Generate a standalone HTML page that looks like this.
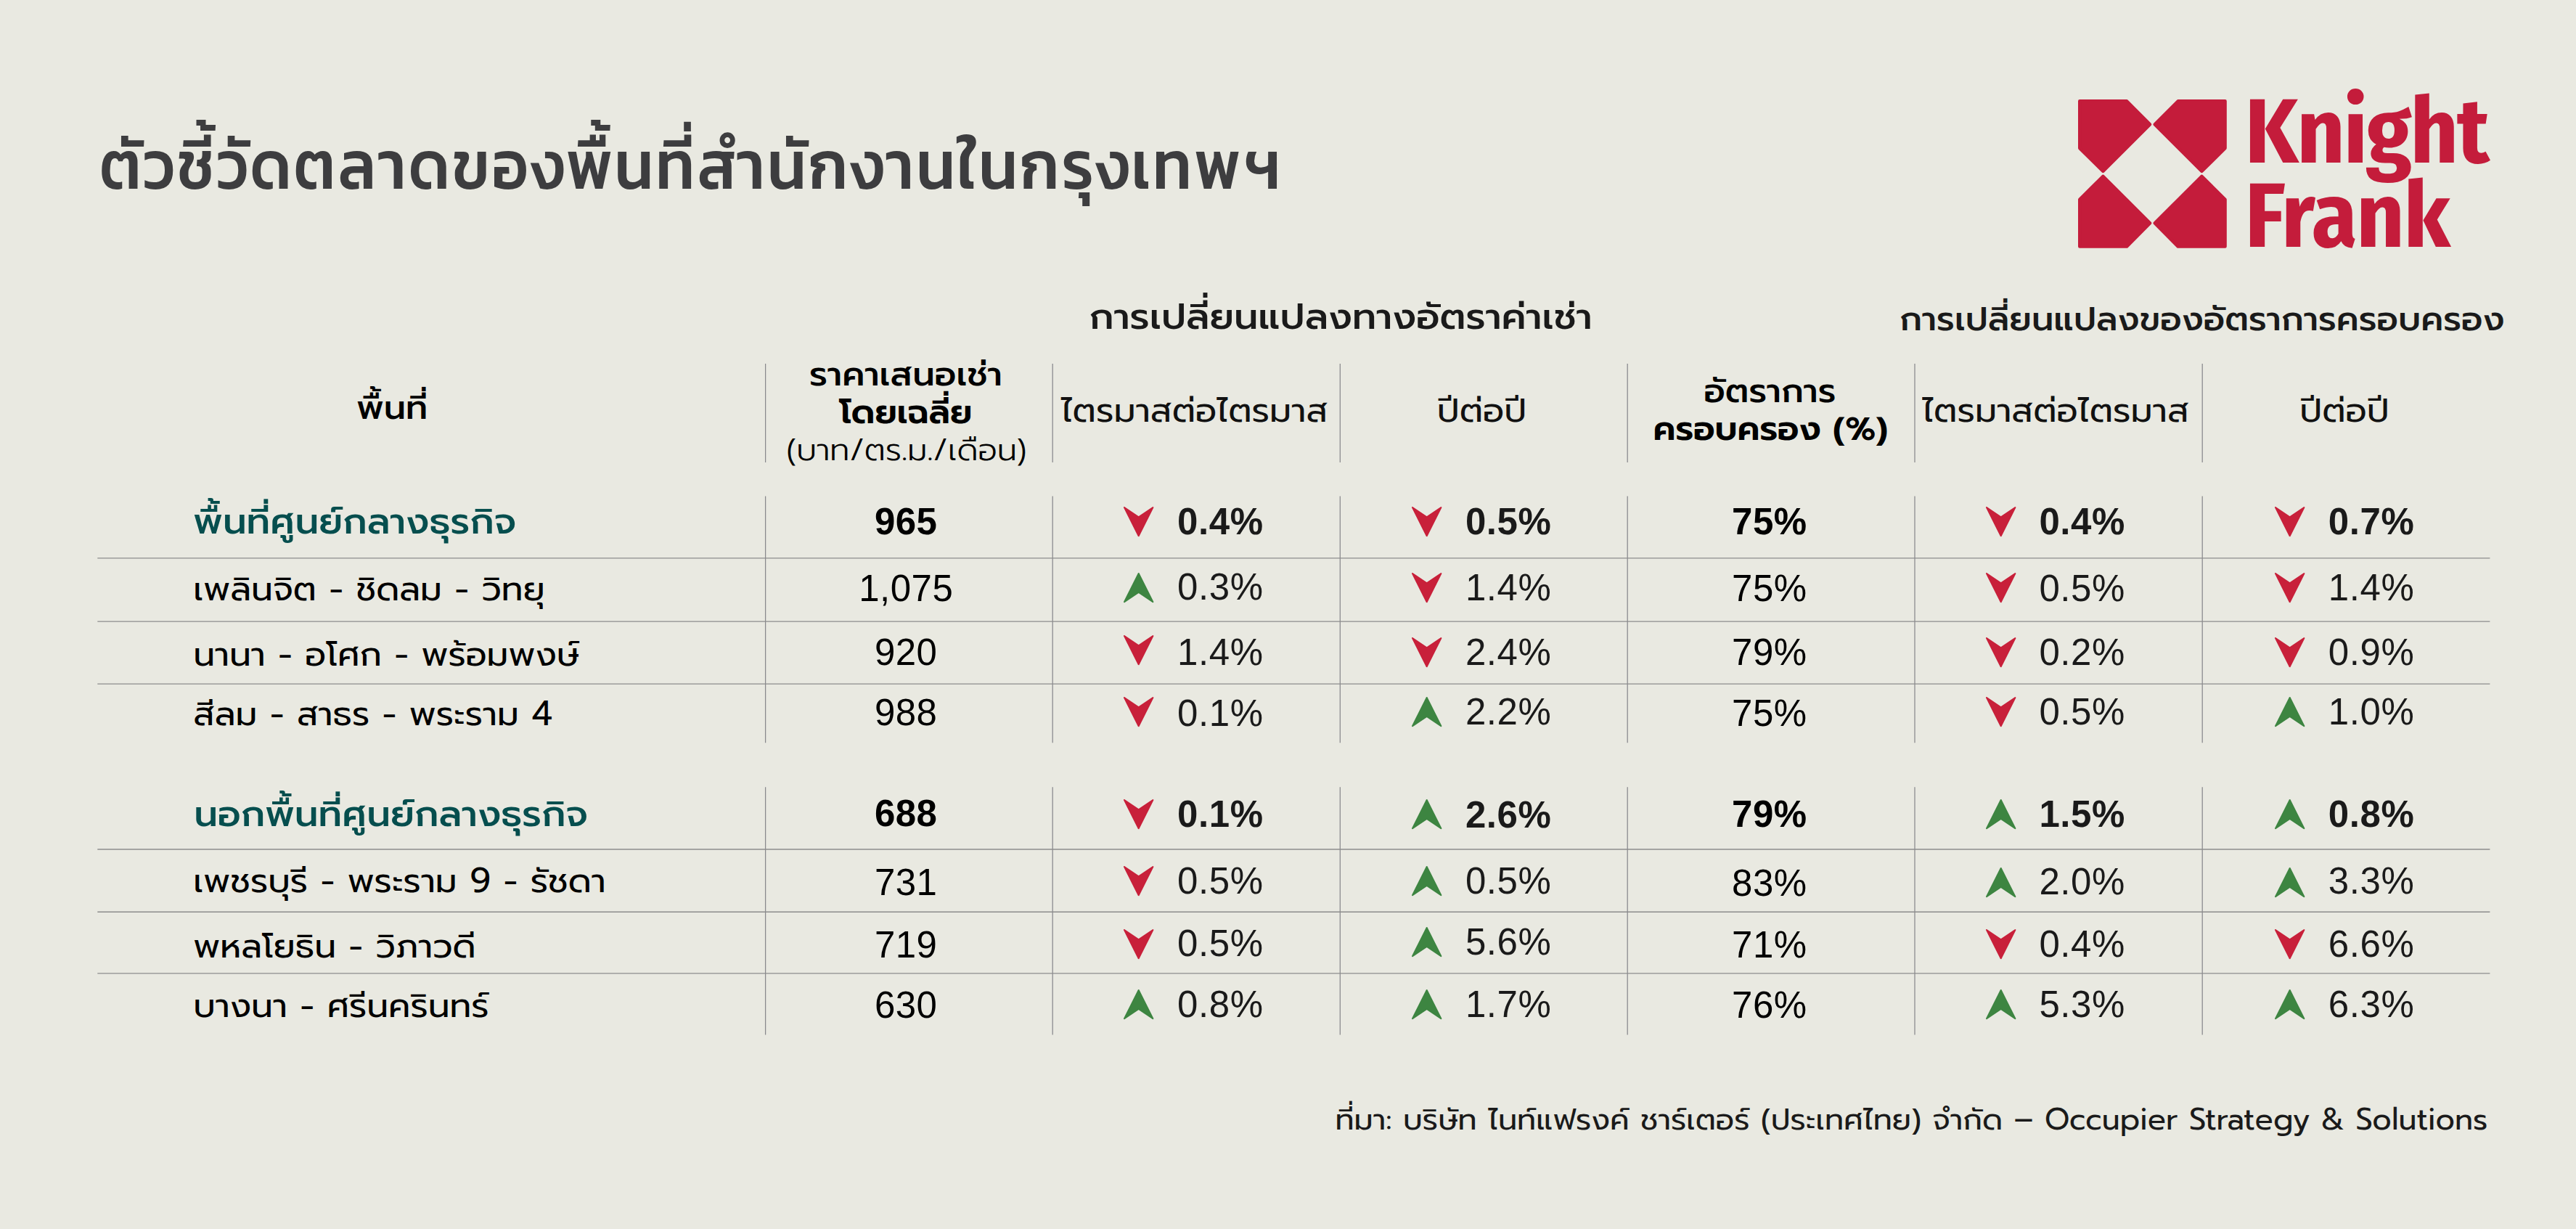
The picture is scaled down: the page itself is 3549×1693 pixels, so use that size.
<!DOCTYPE html>
<html lang="th"><head><meta charset="utf-8"><title>ตัวชี้วัดตลาดของพื้นที่สำนักงานในกรุงเทพฯ</title>
<style>
html,body{margin:0;padding:0;background:#e9e9e1;}
body{width:3549px;height:1693px;position:relative;overflow:hidden;}
.t{position:absolute;white-space:pre;line-height:1;}
.q{display:inline-block;transform:scaleY(0.945);transform-origin:50% 83.5%;}
.a{position:absolute;overflow:visible;}
.lines{position:absolute;left:0;top:0;}
</style></head><body>
<svg class="lines" width="3549" height="1693" viewBox="0 0 3549 1693"><g stroke="#88888c" stroke-width="1.25" fill="none"><line x1="1054.6" y1="501" x2="1054.6" y2="637"/><line x1="1054.6" y1="683.5" x2="1054.6" y2="1023.3"/><line x1="1054.6" y1="1084.3" x2="1054.6" y2="1425.4"/><line x1="1450.2" y1="501" x2="1450.2" y2="637"/><line x1="1450.2" y1="683.5" x2="1450.2" y2="1023.3"/><line x1="1450.2" y1="1084.3" x2="1450.2" y2="1425.4"/><line x1="1846.3" y1="501" x2="1846.3" y2="637"/><line x1="1846.3" y1="683.5" x2="1846.3" y2="1023.3"/><line x1="1846.3" y1="1084.3" x2="1846.3" y2="1425.4"/><line x1="2242.2" y1="501" x2="2242.2" y2="637"/><line x1="2242.2" y1="683.5" x2="2242.2" y2="1023.3"/><line x1="2242.2" y1="1084.3" x2="2242.2" y2="1425.4"/><line x1="2638" y1="501" x2="2638" y2="637"/><line x1="2638" y1="683.5" x2="2638" y2="1023.3"/><line x1="2638" y1="1084.3" x2="2638" y2="1425.4"/><line x1="3034.2" y1="501" x2="3034.2" y2="637"/><line x1="3034.2" y1="683.5" x2="3034.2" y2="1023.3"/><line x1="3034.2" y1="1084.3" x2="3034.2" y2="1425.4"/></g><g stroke="#8c8c8c" stroke-width="1.35" fill="none"><line x1="134.3" y1="768.9" x2="3430.4" y2="768.9"/><line x1="134.3" y1="856.1" x2="3430.4" y2="856.1"/><line x1="134.3" y1="942.1" x2="3430.4" y2="942.1"/><line x1="134.3" y1="1170.0" x2="3430.4" y2="1170.0"/><line x1="134.3" y1="1256.2" x2="3430.4" y2="1256.2"/><line x1="134.3" y1="1340.9" x2="3430.4" y2="1340.9"/></g></svg>
<div class="t" style="top:179.56px;font-size:94.5px;font-weight:500;color:#3d3d3f;font-family:'Kanit','Athiti','Prompt','Liberation Sans','Noto Sans Thai',sans-serif;left:136.50px;transform-origin:0 0;transform:scaleX(0.93);letter-spacing:2.9px;">ตัวชี้วัดตลาดของพื้นที่สำนักงานในกรุงเทพฯ</div>
<div class="t" style="top:410.45px;font-size:52.4px;font-weight:500;color:#1a1a1a;font-family:'Prompt','Liberation Sans','Noto Sans Thai','Loma',sans-serif;left:1500.60px;transform:scaleY(0.945);transform-origin:50% 83.5%;">การเปลี่ยนแปลงทางอัตราค่าเช่า</div>
<div class="t" style="top:416.09px;font-size:47.8px;font-weight:500;color:#1a1a1a;font-family:'Prompt','Liberation Sans','Noto Sans Thai','Loma',sans-serif;left:2617.00px;transform:scaleY(0.945);transform-origin:50% 83.5%;">การเปลี่ยนแปลงของอัตราการครอบครอง</div>
<div class="t" style="top:538.05px;font-size:47.6px;font-weight:500;color:#000;font-family:'Prompt','Liberation Sans','Noto Sans Thai','Loma',sans-serif;left:-59.70px;width:1200px;text-align:center;transform:scaleY(0.945);transform-origin:50% 83.5%;">พื้นที่</div>
<div class="t" style="top:490.64px;font-size:48.1px;font-weight:500;color:#000;font-family:'Prompt','Liberation Sans','Noto Sans Thai','Loma',sans-serif;left:648.00px;width:1200px;text-align:center;transform:scaleY(0.945);transform-origin:50% 83.5%;">ราคาเสนอเช่า</div>
<div class="t" style="top:543.87px;font-size:47.1px;font-weight:600;color:#000;font-family:'Prompt','Liberation Sans','Noto Sans Thai','Loma',sans-serif;left:648.00px;width:1200px;text-align:center;transform:scaleY(0.945);transform-origin:50% 83.5%;">โดยเฉลี่ย</div>
<div class="t" style="top:598.41px;font-size:43.7px;font-weight:300;color:#000;font-family:'Prompt','Liberation Sans','Noto Sans Thai','Loma',sans-serif;left:649.00px;width:1200px;text-align:center;transform:scaleY(0.945);transform-origin:50% 83.5%;">(บาท/ตร.ม./เดือน)</div>
<div class="t" style="top:541.12px;font-size:48px;font-weight:400;color:#111;font-family:'Prompt','Liberation Sans','Noto Sans Thai','Loma',sans-serif;left:1045.50px;width:1200px;text-align:center;transform:scaleY(0.945);transform-origin:50% 83.5%;">ไตรมาสต่อไตรมาส</div>
<div class="t" style="top:541.12px;font-size:48px;font-weight:400;color:#111;font-family:'Prompt','Liberation Sans','Noto Sans Thai','Loma',sans-serif;left:1441.50px;width:1200px;text-align:center;transform:scaleY(0.945);transform-origin:50% 83.5%;">ปีต่อปี</div>
<div class="t" style="top:514.84px;font-size:47.5px;font-weight:500;color:#000;font-family:'Prompt','Liberation Sans','Noto Sans Thai','Loma',sans-serif;left:1838.50px;width:1200px;text-align:center;transform:scaleY(0.945);transform-origin:50% 83.5%;">อัตราการ</div>
<div class="t" style="top:567.42px;font-size:47.4px;font-weight:600;color:#000;font-family:'Prompt','Liberation Sans','Noto Sans Thai','Loma',sans-serif;left:1839.20px;width:1200px;text-align:center;transform:scaleY(0.945);transform-origin:50% 83.5%;">ครอบครอง (%)</div>
<div class="t" style="top:541.12px;font-size:48px;font-weight:400;color:#111;font-family:'Prompt','Liberation Sans','Noto Sans Thai','Loma',sans-serif;left:2232.00px;width:1200px;text-align:center;transform:scaleY(0.945);transform-origin:50% 83.5%;">ไตรมาสต่อไตรมาส</div>
<div class="t" style="top:541.12px;font-size:48px;font-weight:400;color:#111;font-family:'Prompt','Liberation Sans','Noto Sans Thai','Loma',sans-serif;left:2630.00px;width:1200px;text-align:center;transform:scaleY(0.945);transform-origin:50% 83.5%;">ปีต่อปี</div>
<div class="t" style="top:693.00px;font-size:51.5px;font-weight:500;color:#064e4e;font-family:'Prompt','Liberation Sans','Noto Sans Thai','Loma',sans-serif;left:266.30px;transform:scaleY(0.945);transform-origin:50% 83.5%;">พื้นที่ศูนย์กลางธุรกิจ</div>
<div class="t" style="top:693.03px;font-size:51px;font-weight:700;color:#000;font-family:'Liberation Sans','Arimo',Arial,Helvetica,sans-serif;left:648.20px;width:1200px;text-align:center;letter-spacing:0.5px;">965</div>
<div class="t" style="top:693.03px;font-size:51px;font-weight:700;color:#000;font-family:'Liberation Sans','Arimo',Arial,Helvetica,sans-serif;left:1837.90px;width:1200px;text-align:center;letter-spacing:0.5px;">75%</div>
<svg class="a" style="left:1548.10px;top:697.90px" width="41.4" height="41.2" viewBox="0 0 41.4 41.2"><path d="M1.0 1.0 L20.70 14.3 L40.40 1.0 L20.70 40.20 Z" fill="#c8203a" stroke="#c8203a" stroke-width="2.0" stroke-linejoin="round"/></svg>
<div class="t" style="top:693.03px;font-size:51px;font-weight:700;color:#1a1a1a;font-family:'Liberation Sans','Arimo',Arial,Helvetica,sans-serif;left:1622.00px;letter-spacing:0.6px;">0.4%</div>
<svg class="a" style="left:1945.00px;top:697.90px" width="41.4" height="41.2" viewBox="0 0 41.4 41.2"><path d="M1.0 1.0 L20.70 14.3 L40.40 1.0 L20.70 40.20 Z" fill="#c8203a" stroke="#c8203a" stroke-width="2.0" stroke-linejoin="round"/></svg>
<div class="t" style="top:693.03px;font-size:51px;font-weight:700;color:#1a1a1a;font-family:'Liberation Sans','Arimo',Arial,Helvetica,sans-serif;left:2018.90px;letter-spacing:0.6px;">0.5%</div>
<svg class="a" style="left:2735.50px;top:697.90px" width="41.4" height="41.2" viewBox="0 0 41.4 41.2"><path d="M1.0 1.0 L20.70 14.3 L40.40 1.0 L20.70 40.20 Z" fill="#c8203a" stroke="#c8203a" stroke-width="2.0" stroke-linejoin="round"/></svg>
<div class="t" style="top:693.03px;font-size:51px;font-weight:700;color:#1a1a1a;font-family:'Liberation Sans','Arimo',Arial,Helvetica,sans-serif;left:2809.40px;letter-spacing:0.6px;">0.4%</div>
<svg class="a" style="left:3133.90px;top:697.90px" width="41.4" height="41.2" viewBox="0 0 41.4 41.2"><path d="M1.0 1.0 L20.70 14.3 L40.40 1.0 L20.70 40.20 Z" fill="#c8203a" stroke="#c8203a" stroke-width="2.0" stroke-linejoin="round"/></svg>
<div class="t" style="top:693.03px;font-size:51px;font-weight:700;color:#1a1a1a;font-family:'Liberation Sans','Arimo',Arial,Helvetica,sans-serif;left:3207.80px;letter-spacing:0.6px;">0.7%</div>
<div class="t" style="top:787.84px;font-size:47.5px;font-weight:400;color:#000;font-family:'Prompt','Liberation Sans','Noto Sans Thai','Loma',sans-serif;left:266.20px;"><span class="q">เพลินจิต - ชิดลม - วิทยุ</span></div>
<div class="t" style="top:785.23px;font-size:51px;font-weight:400;color:#000;font-family:'Liberation Sans','Arimo',Arial,Helvetica,sans-serif;left:648.20px;width:1200px;text-align:center;letter-spacing:0.5px;">1,075</div>
<div class="t" style="top:785.23px;font-size:51px;font-weight:400;color:#000;font-family:'Liberation Sans','Arimo',Arial,Helvetica,sans-serif;left:1837.90px;width:1200px;text-align:center;letter-spacing:0.5px;">75%</div>
<svg class="a" style="left:1548.10px;top:789.30px" width="41.4" height="41.2" viewBox="0 0 41.4 41.2"><path d="M20.70 1.0 L40.40 40.20 L20.70 26.90 L1.0 40.20 Z" fill="#3d8541" stroke="#3d8541" stroke-width="2.0" stroke-linejoin="round"/></svg>
<div class="t" style="top:783.23px;font-size:51px;font-weight:400;color:#1a1a1a;font-family:'Liberation Sans','Arimo',Arial,Helvetica,sans-serif;left:1622.00px;letter-spacing:0.6px;">0.3%</div>
<svg class="a" style="left:1945.00px;top:788.90px" width="41.4" height="41.2" viewBox="0 0 41.4 41.2"><path d="M1.0 1.0 L20.70 14.3 L40.40 1.0 L20.70 40.20 Z" fill="#c8203a" stroke="#c8203a" stroke-width="2.0" stroke-linejoin="round"/></svg>
<div class="t" style="top:784.13px;font-size:51px;font-weight:400;color:#1a1a1a;font-family:'Liberation Sans','Arimo',Arial,Helvetica,sans-serif;left:2018.90px;letter-spacing:0.6px;">1.4%</div>
<svg class="a" style="left:2735.50px;top:788.90px" width="41.4" height="41.2" viewBox="0 0 41.4 41.2"><path d="M1.0 1.0 L20.70 14.3 L40.40 1.0 L20.70 40.20 Z" fill="#c8203a" stroke="#c8203a" stroke-width="2.0" stroke-linejoin="round"/></svg>
<div class="t" style="top:784.63px;font-size:51px;font-weight:400;color:#1a1a1a;font-family:'Liberation Sans','Arimo',Arial,Helvetica,sans-serif;left:2809.40px;letter-spacing:0.6px;">0.5%</div>
<svg class="a" style="left:3133.90px;top:788.90px" width="41.4" height="41.2" viewBox="0 0 41.4 41.2"><path d="M1.0 1.0 L20.70 14.3 L40.40 1.0 L20.70 40.20 Z" fill="#c8203a" stroke="#c8203a" stroke-width="2.0" stroke-linejoin="round"/></svg>
<div class="t" style="top:784.13px;font-size:51px;font-weight:400;color:#1a1a1a;font-family:'Liberation Sans','Arimo',Arial,Helvetica,sans-serif;left:3207.80px;letter-spacing:0.6px;">1.4%</div>
<div class="t" style="top:878.14px;font-size:47.5px;font-weight:400;color:#000;font-family:'Prompt','Liberation Sans','Noto Sans Thai','Loma',sans-serif;left:266.20px;"><span class="q">นานา - อโศก - พร้อมพงษ์</span></div>
<div class="t" style="top:872.93px;font-size:51px;font-weight:400;color:#000;font-family:'Liberation Sans','Arimo',Arial,Helvetica,sans-serif;left:648.20px;width:1200px;text-align:center;letter-spacing:0.5px;">920</div>
<div class="t" style="top:872.93px;font-size:51px;font-weight:400;color:#000;font-family:'Liberation Sans','Arimo',Arial,Helvetica,sans-serif;left:1837.90px;width:1200px;text-align:center;letter-spacing:0.5px;">79%</div>
<svg class="a" style="left:1548.10px;top:875.00px" width="41.4" height="41.2" viewBox="0 0 41.4 41.2"><path d="M1.0 1.0 L20.70 14.3 L40.40 1.0 L20.70 40.20 Z" fill="#c8203a" stroke="#c8203a" stroke-width="2.0" stroke-linejoin="round"/></svg>
<div class="t" style="top:872.63px;font-size:51px;font-weight:400;color:#1a1a1a;font-family:'Liberation Sans','Arimo',Arial,Helvetica,sans-serif;left:1622.00px;letter-spacing:0.6px;">1.4%</div>
<svg class="a" style="left:1945.00px;top:877.50px" width="41.4" height="41.2" viewBox="0 0 41.4 41.2"><path d="M1.0 1.0 L20.70 14.3 L40.40 1.0 L20.70 40.20 Z" fill="#c8203a" stroke="#c8203a" stroke-width="2.0" stroke-linejoin="round"/></svg>
<div class="t" style="top:872.63px;font-size:51px;font-weight:400;color:#1a1a1a;font-family:'Liberation Sans','Arimo',Arial,Helvetica,sans-serif;left:2018.90px;letter-spacing:0.6px;">2.4%</div>
<svg class="a" style="left:2735.50px;top:877.50px" width="41.4" height="41.2" viewBox="0 0 41.4 41.2"><path d="M1.0 1.0 L20.70 14.3 L40.40 1.0 L20.70 40.20 Z" fill="#c8203a" stroke="#c8203a" stroke-width="2.0" stroke-linejoin="round"/></svg>
<div class="t" style="top:872.63px;font-size:51px;font-weight:400;color:#1a1a1a;font-family:'Liberation Sans','Arimo',Arial,Helvetica,sans-serif;left:2809.40px;letter-spacing:0.6px;">0.2%</div>
<svg class="a" style="left:3133.90px;top:877.50px" width="41.4" height="41.2" viewBox="0 0 41.4 41.2"><path d="M1.0 1.0 L20.70 14.3 L40.40 1.0 L20.70 40.20 Z" fill="#c8203a" stroke="#c8203a" stroke-width="2.0" stroke-linejoin="round"/></svg>
<div class="t" style="top:872.63px;font-size:51px;font-weight:400;color:#1a1a1a;font-family:'Liberation Sans','Arimo',Arial,Helvetica,sans-serif;left:3207.80px;letter-spacing:0.6px;">0.9%</div>
<div class="t" style="top:959.94px;font-size:47.5px;font-weight:400;color:#000;font-family:'Prompt','Liberation Sans','Noto Sans Thai','Loma',sans-serif;left:266.20px;"><span class="q">สีลม - สาธร - พระราม </span>4</div>
<div class="t" style="top:956.23px;font-size:51px;font-weight:400;color:#000;font-family:'Liberation Sans','Arimo',Arial,Helvetica,sans-serif;left:648.20px;width:1200px;text-align:center;letter-spacing:0.5px;">988</div>
<div class="t" style="top:956.73px;font-size:51px;font-weight:400;color:#000;font-family:'Liberation Sans','Arimo',Arial,Helvetica,sans-serif;left:1837.90px;width:1200px;text-align:center;letter-spacing:0.5px;">75%</div>
<svg class="a" style="left:1548.10px;top:960.20px" width="41.4" height="41.2" viewBox="0 0 41.4 41.2"><path d="M1.0 1.0 L20.70 14.3 L40.40 1.0 L20.70 40.20 Z" fill="#c8203a" stroke="#c8203a" stroke-width="2.0" stroke-linejoin="round"/></svg>
<div class="t" style="top:956.73px;font-size:51px;font-weight:400;color:#1a1a1a;font-family:'Liberation Sans','Arimo',Arial,Helvetica,sans-serif;left:1622.00px;letter-spacing:0.6px;">0.1%</div>
<svg class="a" style="left:1945.00px;top:960.20px" width="41.4" height="41.2" viewBox="0 0 41.4 41.2"><path d="M20.70 1.0 L40.40 40.20 L20.70 26.90 L1.0 40.20 Z" fill="#3d8541" stroke="#3d8541" stroke-width="2.0" stroke-linejoin="round"/></svg>
<div class="t" style="top:955.33px;font-size:51px;font-weight:400;color:#1a1a1a;font-family:'Liberation Sans','Arimo',Arial,Helvetica,sans-serif;left:2018.90px;letter-spacing:0.6px;">2.2%</div>
<svg class="a" style="left:2735.50px;top:960.20px" width="41.4" height="41.2" viewBox="0 0 41.4 41.2"><path d="M1.0 1.0 L20.70 14.3 L40.40 1.0 L20.70 40.20 Z" fill="#c8203a" stroke="#c8203a" stroke-width="2.0" stroke-linejoin="round"/></svg>
<div class="t" style="top:955.33px;font-size:51px;font-weight:400;color:#1a1a1a;font-family:'Liberation Sans','Arimo',Arial,Helvetica,sans-serif;left:2809.40px;letter-spacing:0.6px;">0.5%</div>
<svg class="a" style="left:3133.90px;top:960.20px" width="41.4" height="41.2" viewBox="0 0 41.4 41.2"><path d="M20.70 1.0 L40.40 40.20 L20.70 26.90 L1.0 40.20 Z" fill="#3d8541" stroke="#3d8541" stroke-width="2.0" stroke-linejoin="round"/></svg>
<div class="t" style="top:955.33px;font-size:51px;font-weight:400;color:#1a1a1a;font-family:'Liberation Sans','Arimo',Arial,Helvetica,sans-serif;left:3207.80px;letter-spacing:0.6px;">1.0%</div>
<div class="t" style="top:1096.00px;font-size:51.5px;font-weight:500;color:#064e4e;font-family:'Prompt','Liberation Sans','Noto Sans Thai','Loma',sans-serif;left:267.20px;transform:scaleY(0.945);transform-origin:50% 83.5%;">นอกพื้นที่ศูนย์กลางธุรกิจ</div>
<div class="t" style="top:1095.03px;font-size:51px;font-weight:700;color:#000;font-family:'Liberation Sans','Arimo',Arial,Helvetica,sans-serif;left:648.20px;width:1200px;text-align:center;letter-spacing:0.5px;">688</div>
<div class="t" style="top:1095.83px;font-size:51px;font-weight:700;color:#000;font-family:'Liberation Sans','Arimo',Arial,Helvetica,sans-serif;left:1837.90px;width:1200px;text-align:center;letter-spacing:0.5px;">79%</div>
<svg class="a" style="left:1548.10px;top:1101.20px" width="41.4" height="41.2" viewBox="0 0 41.4 41.2"><path d="M1.0 1.0 L20.70 14.3 L40.40 1.0 L20.70 40.20 Z" fill="#c8203a" stroke="#c8203a" stroke-width="2.0" stroke-linejoin="round"/></svg>
<div class="t" style="top:1095.83px;font-size:51px;font-weight:700;color:#1a1a1a;font-family:'Liberation Sans','Arimo',Arial,Helvetica,sans-serif;left:1622.00px;letter-spacing:0.6px;">0.1%</div>
<svg class="a" style="left:1945.00px;top:1101.20px" width="41.4" height="41.2" viewBox="0 0 41.4 41.2"><path d="M20.70 1.0 L40.40 40.20 L20.70 26.90 L1.0 40.20 Z" fill="#3d8541" stroke="#3d8541" stroke-width="2.0" stroke-linejoin="round"/></svg>
<div class="t" style="top:1096.53px;font-size:51px;font-weight:700;color:#1a1a1a;font-family:'Liberation Sans','Arimo',Arial,Helvetica,sans-serif;left:2018.90px;letter-spacing:0.6px;">2.6%</div>
<svg class="a" style="left:2735.50px;top:1101.20px" width="41.4" height="41.2" viewBox="0 0 41.4 41.2"><path d="M20.70 1.0 L40.40 40.20 L20.70 26.90 L1.0 40.20 Z" fill="#3d8541" stroke="#3d8541" stroke-width="2.0" stroke-linejoin="round"/></svg>
<div class="t" style="top:1095.83px;font-size:51px;font-weight:700;color:#1a1a1a;font-family:'Liberation Sans','Arimo',Arial,Helvetica,sans-serif;left:2809.40px;letter-spacing:0.6px;">1.5%</div>
<svg class="a" style="left:3133.90px;top:1101.20px" width="41.4" height="41.2" viewBox="0 0 41.4 41.2"><path d="M20.70 1.0 L40.40 40.20 L20.70 26.90 L1.0 40.20 Z" fill="#3d8541" stroke="#3d8541" stroke-width="2.0" stroke-linejoin="round"/></svg>
<div class="t" style="top:1095.83px;font-size:51px;font-weight:700;color:#1a1a1a;font-family:'Liberation Sans','Arimo',Arial,Helvetica,sans-serif;left:3207.80px;letter-spacing:0.6px;">0.8%</div>
<div class="t" style="top:1189.94px;font-size:47.5px;font-weight:400;color:#000;font-family:'Prompt','Liberation Sans','Noto Sans Thai','Loma',sans-serif;left:266.20px;"><span class="q">เพชรบุรี - พระราม </span>9<span class="q"> - รัชดา</span></div>
<div class="t" style="top:1190.23px;font-size:51px;font-weight:400;color:#000;font-family:'Liberation Sans','Arimo',Arial,Helvetica,sans-serif;left:648.20px;width:1200px;text-align:center;letter-spacing:0.5px;">731</div>
<div class="t" style="top:1190.73px;font-size:51px;font-weight:400;color:#000;font-family:'Liberation Sans','Arimo',Arial,Helvetica,sans-serif;left:1837.90px;width:1200px;text-align:center;letter-spacing:0.5px;">83%</div>
<svg class="a" style="left:1548.10px;top:1192.80px" width="41.4" height="41.2" viewBox="0 0 41.4 41.2"><path d="M1.0 1.0 L20.70 14.3 L40.40 1.0 L20.70 40.20 Z" fill="#c8203a" stroke="#c8203a" stroke-width="2.0" stroke-linejoin="round"/></svg>
<div class="t" style="top:1188.03px;font-size:51px;font-weight:400;color:#1a1a1a;font-family:'Liberation Sans','Arimo',Arial,Helvetica,sans-serif;left:1622.00px;letter-spacing:0.6px;">0.5%</div>
<svg class="a" style="left:1945.00px;top:1192.80px" width="41.4" height="41.2" viewBox="0 0 41.4 41.2"><path d="M20.70 1.0 L40.40 40.20 L20.70 26.90 L1.0 40.20 Z" fill="#3d8541" stroke="#3d8541" stroke-width="2.0" stroke-linejoin="round"/></svg>
<div class="t" style="top:1188.03px;font-size:51px;font-weight:400;color:#1a1a1a;font-family:'Liberation Sans','Arimo',Arial,Helvetica,sans-serif;left:2018.90px;letter-spacing:0.6px;">0.5%</div>
<svg class="a" style="left:2735.50px;top:1194.50px" width="41.4" height="41.2" viewBox="0 0 41.4 41.2"><path d="M20.70 1.0 L40.40 40.20 L20.70 26.90 L1.0 40.20 Z" fill="#3d8541" stroke="#3d8541" stroke-width="2.0" stroke-linejoin="round"/></svg>
<div class="t" style="top:1188.83px;font-size:51px;font-weight:400;color:#1a1a1a;font-family:'Liberation Sans','Arimo',Arial,Helvetica,sans-serif;left:2809.40px;letter-spacing:0.6px;">2.0%</div>
<svg class="a" style="left:3133.90px;top:1194.50px" width="41.4" height="41.2" viewBox="0 0 41.4 41.2"><path d="M20.70 1.0 L40.40 40.20 L20.70 26.90 L1.0 40.20 Z" fill="#3d8541" stroke="#3d8541" stroke-width="2.0" stroke-linejoin="round"/></svg>
<div class="t" style="top:1188.33px;font-size:51px;font-weight:400;color:#1a1a1a;font-family:'Liberation Sans','Arimo',Arial,Helvetica,sans-serif;left:3207.80px;letter-spacing:0.6px;">3.3%</div>
<div class="t" style="top:1280.14px;font-size:47.5px;font-weight:400;color:#000;font-family:'Prompt','Liberation Sans','Noto Sans Thai','Loma',sans-serif;left:266.20px;"><span class="q">พหลโยธิน - วิภาวดี</span></div>
<div class="t" style="top:1276.23px;font-size:51px;font-weight:400;color:#000;font-family:'Liberation Sans','Arimo',Arial,Helvetica,sans-serif;left:648.20px;width:1200px;text-align:center;letter-spacing:0.5px;">719</div>
<div class="t" style="top:1275.73px;font-size:51px;font-weight:400;color:#000;font-family:'Liberation Sans','Arimo',Arial,Helvetica,sans-serif;left:1837.90px;width:1200px;text-align:center;letter-spacing:0.5px;">71%</div>
<svg class="a" style="left:1548.10px;top:1279.70px" width="41.4" height="41.2" viewBox="0 0 41.4 41.2"><path d="M1.0 1.0 L20.70 14.3 L40.40 1.0 L20.70 40.20 Z" fill="#c8203a" stroke="#c8203a" stroke-width="2.0" stroke-linejoin="round"/></svg>
<div class="t" style="top:1274.33px;font-size:51px;font-weight:400;color:#1a1a1a;font-family:'Liberation Sans','Arimo',Arial,Helvetica,sans-serif;left:1622.00px;letter-spacing:0.6px;">0.5%</div>
<svg class="a" style="left:1945.00px;top:1276.90px" width="41.4" height="41.2" viewBox="0 0 41.4 41.2"><path d="M20.70 1.0 L40.40 40.20 L20.70 26.90 L1.0 40.20 Z" fill="#3d8541" stroke="#3d8541" stroke-width="2.0" stroke-linejoin="round"/></svg>
<div class="t" style="top:1272.13px;font-size:51px;font-weight:400;color:#1a1a1a;font-family:'Liberation Sans','Arimo',Arial,Helvetica,sans-serif;left:2018.90px;letter-spacing:0.6px;">5.6%</div>
<svg class="a" style="left:2735.50px;top:1279.70px" width="41.4" height="41.2" viewBox="0 0 41.4 41.2"><path d="M1.0 1.0 L20.70 14.3 L40.40 1.0 L20.70 40.20 Z" fill="#c8203a" stroke="#c8203a" stroke-width="2.0" stroke-linejoin="round"/></svg>
<div class="t" style="top:1274.83px;font-size:51px;font-weight:400;color:#1a1a1a;font-family:'Liberation Sans','Arimo',Arial,Helvetica,sans-serif;left:2809.40px;letter-spacing:0.6px;">0.4%</div>
<svg class="a" style="left:3133.90px;top:1279.70px" width="41.4" height="41.2" viewBox="0 0 41.4 41.2"><path d="M1.0 1.0 L20.70 14.3 L40.40 1.0 L20.70 40.20 Z" fill="#c8203a" stroke="#c8203a" stroke-width="2.0" stroke-linejoin="round"/></svg>
<div class="t" style="top:1274.83px;font-size:51px;font-weight:400;color:#1a1a1a;font-family:'Liberation Sans','Arimo',Arial,Helvetica,sans-serif;left:3207.80px;letter-spacing:0.6px;">6.6%</div>
<div class="t" style="top:1362.14px;font-size:47.5px;font-weight:400;color:#000;font-family:'Prompt','Liberation Sans','Noto Sans Thai','Loma',sans-serif;left:266.20px;"><span class="q">บางนา - ศรีนครินทร์</span></div>
<div class="t" style="top:1358.73px;font-size:51px;font-weight:400;color:#000;font-family:'Liberation Sans','Arimo',Arial,Helvetica,sans-serif;left:648.20px;width:1200px;text-align:center;letter-spacing:0.5px;">630</div>
<div class="t" style="top:1358.73px;font-size:51px;font-weight:400;color:#000;font-family:'Liberation Sans','Arimo',Arial,Helvetica,sans-serif;left:1837.90px;width:1200px;text-align:center;letter-spacing:0.5px;">76%</div>
<svg class="a" style="left:1548.10px;top:1362.90px" width="41.4" height="41.2" viewBox="0 0 41.4 41.2"><path d="M20.70 1.0 L40.40 40.20 L20.70 26.90 L1.0 40.20 Z" fill="#3d8541" stroke="#3d8541" stroke-width="2.0" stroke-linejoin="round"/></svg>
<div class="t" style="top:1358.13px;font-size:51px;font-weight:400;color:#1a1a1a;font-family:'Liberation Sans','Arimo',Arial,Helvetica,sans-serif;left:1622.00px;letter-spacing:0.6px;">0.8%</div>
<svg class="a" style="left:1945.00px;top:1362.90px" width="41.4" height="41.2" viewBox="0 0 41.4 41.2"><path d="M20.70 1.0 L40.40 40.20 L20.70 26.90 L1.0 40.20 Z" fill="#3d8541" stroke="#3d8541" stroke-width="2.0" stroke-linejoin="round"/></svg>
<div class="t" style="top:1357.63px;font-size:51px;font-weight:400;color:#1a1a1a;font-family:'Liberation Sans','Arimo',Arial,Helvetica,sans-serif;left:2018.90px;letter-spacing:0.6px;">1.7%</div>
<svg class="a" style="left:2735.50px;top:1362.90px" width="41.4" height="41.2" viewBox="0 0 41.4 41.2"><path d="M20.70 1.0 L40.40 40.20 L20.70 26.90 L1.0 40.20 Z" fill="#3d8541" stroke="#3d8541" stroke-width="2.0" stroke-linejoin="round"/></svg>
<div class="t" style="top:1358.13px;font-size:51px;font-weight:400;color:#1a1a1a;font-family:'Liberation Sans','Arimo',Arial,Helvetica,sans-serif;left:2809.40px;letter-spacing:0.6px;">5.3%</div>
<svg class="a" style="left:3133.90px;top:1362.90px" width="41.4" height="41.2" viewBox="0 0 41.4 41.2"><path d="M20.70 1.0 L40.40 40.20 L20.70 26.90 L1.0 40.20 Z" fill="#3d8541" stroke="#3d8541" stroke-width="2.0" stroke-linejoin="round"/></svg>
<div class="t" style="top:1358.13px;font-size:51px;font-weight:400;color:#1a1a1a;font-family:'Liberation Sans','Arimo',Arial,Helvetica,sans-serif;left:3207.80px;letter-spacing:0.6px;">6.3%</div>
<div class="t" style="top:1521.78px;font-size:41.7px;font-weight:400;color:#1a1a1a;font-family:'Prompt','Liberation Sans','Noto Sans Thai','Loma',sans-serif;right:121.50px;text-align:right;"><span class="q">ที่มา: บริษัท ไนท์แฟรงค์ ชาร์เตอร์ (ประเทศไทย) จำกัด </span>– Occupier Strategy &amp; Solutions</div>
<svg class="a" style="left:2863.3px;top:137.2px" width="204.8" height="204.8" viewBox="0 0 204.8 204.8"><g fill="#c41c3b" stroke="#c41c3b" stroke-width="4.4" stroke-linejoin="round"><polygon points="2.20,2.20 67.08,2.20 99.04,34.39 34.39,99.04 2.20,67.08"/><polygon points="202.60,2.20 137.72,2.20 105.76,34.39 170.41,99.04 202.60,67.08"/><polygon points="2.20,202.60 67.08,202.60 99.04,170.41 34.39,105.76 2.20,137.72"/><polygon points="202.60,202.60 137.72,202.60 105.76,170.41 170.41,105.76 202.60,137.72"/></g></svg>
<div class="t" style="top:118.74px;font-size:126.3px;font-weight:700;color:#c41c3b;font-family:'Fira Sans Condensed','Roboto Condensed','Archivo Narrow','PT Sans Narrow','Liberation Sans Narrow','Liberation Sans',sans-serif;left:3093.00px;letter-spacing:-1.8px;">Knight</div>
<div class="t" style="top:235.14px;font-size:126.3px;font-weight:700;color:#c41c3b;font-family:'Fira Sans Condensed','Roboto Condensed','Archivo Narrow','PT Sans Narrow','Liberation Sans Narrow','Liberation Sans',sans-serif;left:3093.00px;letter-spacing:-1px;">Frank</div>
</body></html>
